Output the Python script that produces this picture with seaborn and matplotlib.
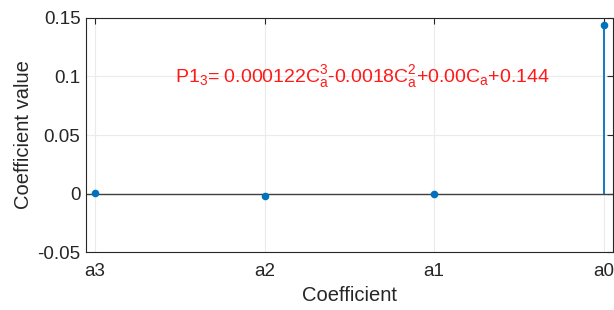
import matplotlib
matplotlib.use("Agg")
import matplotlib.pyplot as plt
import seaborn as sns
import pandas as pd

# coefficient names and fitted values
coef_names = ["a3", "a2", "a1", "a0"]
coef_values = [0.000122, -0.0018, 0.0, 0.144]
y_ticks = [-0.05, 0, 0.05, 0.1, 0.15]
y_tick_labels = ["-0.05", "0", "0.05", "0.1", "0.15"]
equation = r"P1$_3$= 0.000122C$_a^3$-0.0018C$_a^2$+0.00C$_a$+0.144"

def main():
    sns.set_style("white")
    plt.rcParams["font.family"] = ["Liberation Sans", "DejaVu Sans"]
    plt.rcParams["mathtext.default"] = "regular"

    df = pd.DataFrame({"pos": range(1, len(coef_names) + 1), "value": coef_values})

    fig = plt.figure(figsize=(6.14, 3.10), dpi=100)
    ax = fig.add_axes([0.140, 0.187, 0.858, 0.755])

    blue = "#0072BD"
    ax.axhline(0, color="#404040", lw=1.0, zorder=2)
    ax.vlines(df["pos"], 0, df["value"], color=blue, lw=1.3, zorder=3)
    sns.scatterplot(data=df, x="pos", y="value", ax=ax, color=blue, s=30,
                    edgecolor=blue, linewidth=0, zorder=4, legend=False)

    ax.set_xlim(0.947, 4.053)
    ax.set_ylim(-0.05, 0.15)
    ax.set_xticks(df["pos"])
    ax.set_xticklabels(coef_names)
    ax.set_yticks(y_ticks)
    ax.set_yticklabels(y_tick_labels)
    ax.grid(True, color="#ebebeb", lw=0.8)
    ax.set_axisbelow(True)

    for s in ax.spines.values():
        s.set_color("#262626")
        s.set_linewidth(0.8)
        s.set_visible(True)
    ax.tick_params(direction="in", length=4, width=0.8, colors="#262626",
                   labelsize=13.5, top=True, right=True, pad=4)
    ax.tick_params(axis="x", pad=8)

    ax.set_xlabel("Coefficient", fontsize=14.5, color="#262626", labelpad=4)
    ax.set_ylabel("Coefficient value", fontsize=14.5, color="#262626", labelpad=3)

    ax.text(1.47, 0.1, equation, color="#ff1a1a", fontsize=14, va="center", ha="left")

    fig.savefig("out.png", dpi=100)

if __name__ == "__main__":
    main()
